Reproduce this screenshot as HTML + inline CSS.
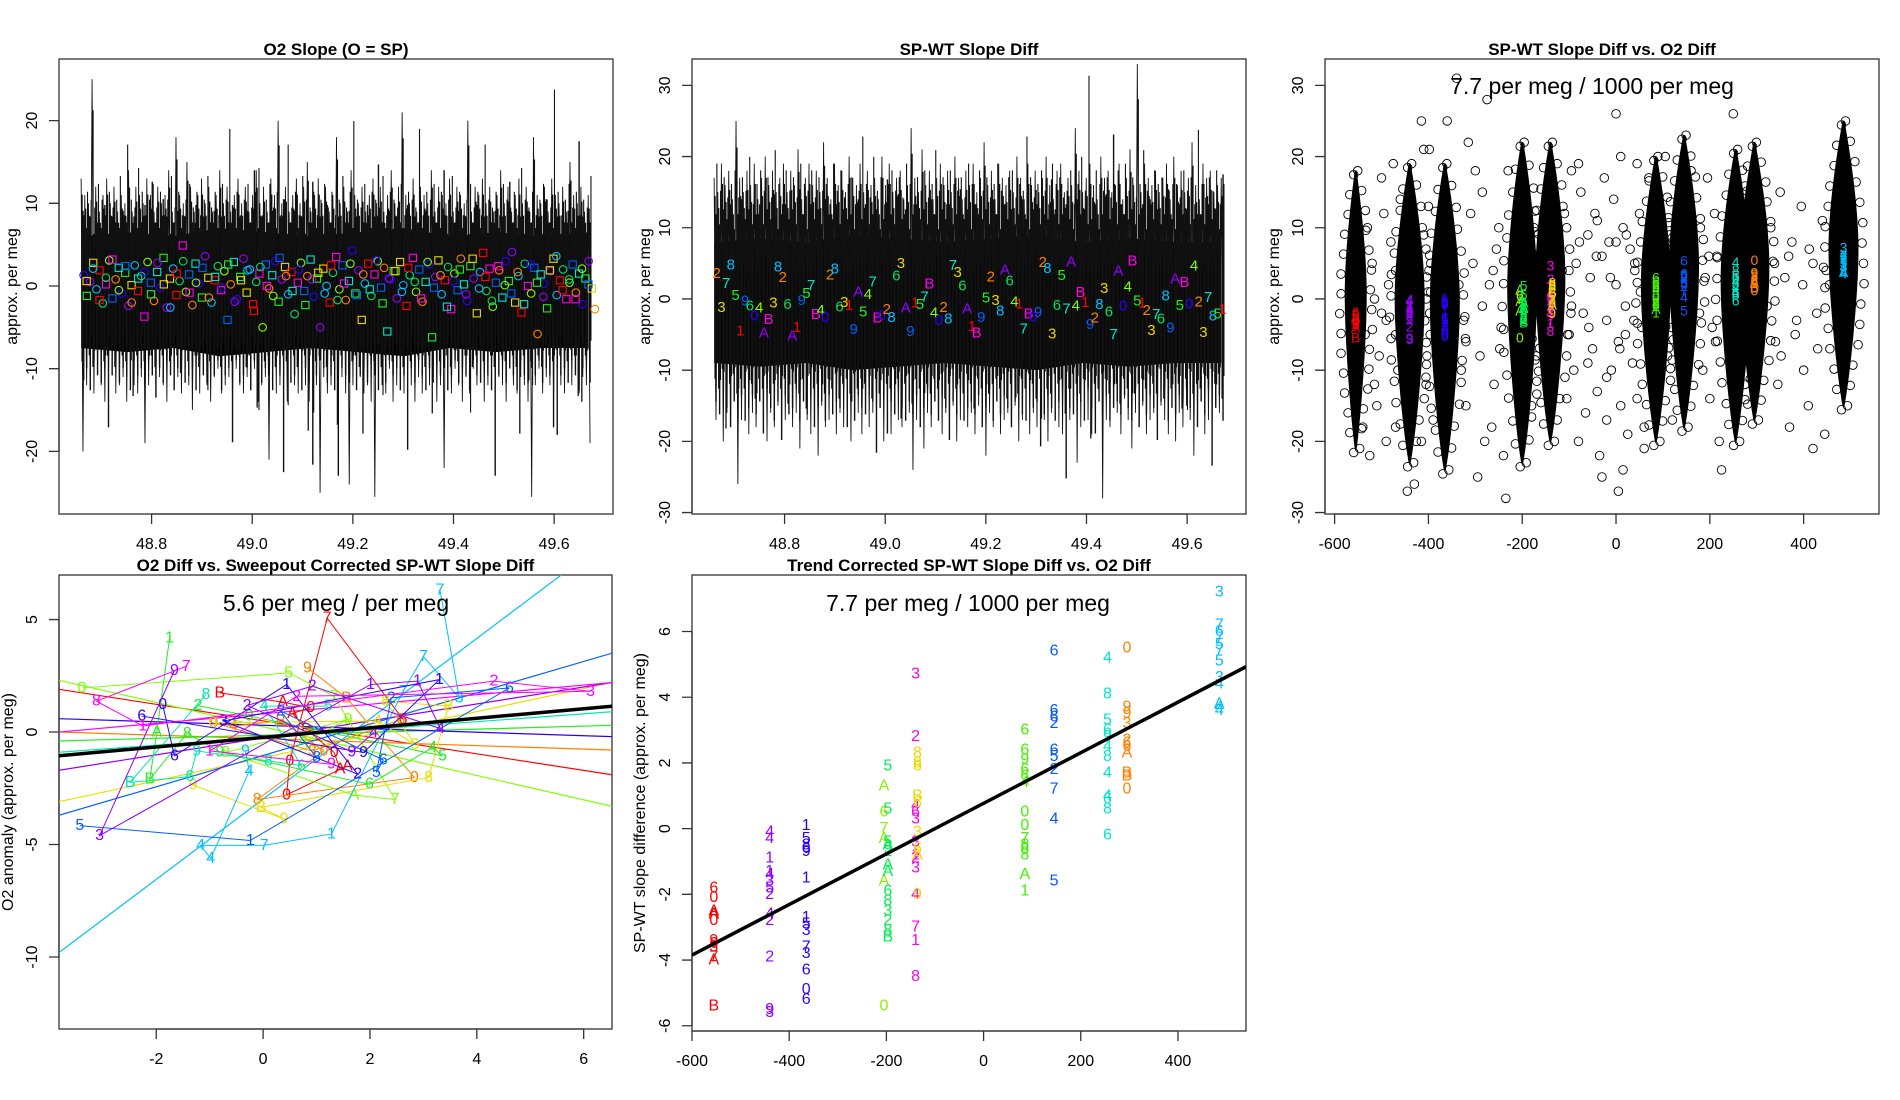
<!DOCTYPE html>
<html><head><meta charset="utf-8"><title>SP-WT slope diagnostics</title>
<style>
html,body{margin:0;padding:0;background:#fff;}
svg{display:block;font-family:"Liberation Sans",Arial,sans-serif;}
</style></head>
<body>
<svg id="fig" width="1900" height="1100" viewBox="0 0 1900 1100" xmlns="http://www.w3.org/2000/svg">
<defs>
<clipPath id="c1"><rect x="59" y="59" width="554" height="455"/></clipPath>
<clipPath id="c2"><rect x="692" y="59" width="554" height="455"/></clipPath>
<clipPath id="c3"><rect x="1325" y="59" width="554" height="455"/></clipPath>
<clipPath id="c4"><rect x="59" y="575" width="553" height="454"/></clipPath>
<clipPath id="c5"><rect x="692" y="575" width="554" height="456"/></clipPath>
</defs>
</svg>
<script>
// ---------------- DATA ----------------
const tStart = 48.66, tStep = 0.00725;
const p1Hi = [13,11,10,25,12,9,11,13,10,12,9,11,10,14,9,12,11,10,13,11,
9,12,10,11,14,9,18,11,10,15,12,9,11,13,10,12,9,11,14,10,
12,9,11,13,10,12,9,11,14,10,12,9,13,11,20,10,12,9,11,13,
10,12,15,9,11,13,10,12,9,11,18,10,12,9,14,11,10,12,9,11,
13,10,12,9,11,14,10,12,21,11,10,13,9,12,11,10,14,9,12,11,
10,13,9,12,11,10,20,9,12,11,13,10,12,9,11,14,10,12,9,11,
13,10,12,9,18,11,10,12,9,13,11,10,12,9,15,11,10,12,9,11];
const p1Lo = [-20,-12,-11,-13,-10,-12,-14,-11,-10,-13,-12,-11,-14,-10,-12,-13,-11,-19,-12,-10,
-13,-11,-12,-14,-10,-12,-11,-13,-10,-12,-15,-11,-13,-10,-12,-14,-11,-10,-13,-12,
-11,-14,-10,-12,-13,-11,-12,-10,-14,-12,-11,-21,-10,-13,-12,-11,-14,-10,-12,-13,
-11,-12,-14,-10,-12,-25,-11,-13,-12,-10,-14,-11,-13,-24,-12,-10,-11,-13,-12,-14,
-25.5,-11,-12,-13,-10,-14,-12,-11,-13,-10,-12,-14,-11,-13,-10,-12,-11,-14,-12,-22,
-11,-13,-10,-12,-14,-11,-13,-10,-12,-11,-14,-12,-10,-13,-11,-12,-14,-10,-12,-13,
-11,-12,-14,-25.5,-12,-10,-13,-11,-12,-14,-10,-12,-13,-11,-12,-10,-13,-11,-12,-19];
const p1CoreHi = [6,6.5,6,7,6.5,6,6.5,7,6,6.5,6,6.5];
const p1CoreLo = [-7.5,-8,-7.5,-8.5,-8,-7.5,-8,-8.5,-7.5,-8,-7.5,-7.5];
const p1Markers = [1.3,-1.2,0.5,2.8,-0.4,1.9,-2.1,0.2,3.1,-1.5,0.8,2.2,-0.9,1.6,-2.4,0.1,2.5,-0.6,1.2,-3.7,
2.9,0.4,-1.8,1.7,-0.2,3.4,-2.6,0.9,2.1,-1.1,0.6,4.9,-0.7,1.4,-2.3,2.7,0.3,-1.4,3.6,1.0,
-2.0,0.7,2.4,-0.5,1.8,-4.1,0.2,2.9,-1.6,1.1,3.3,-0.8,2.0,-2.2,0.5,1.5,-5.0,2.6,-0.3,1.3,
3.0,-1.9,0.8,2.3,-1.0,1.7,-3.4,0.4,2.8,-0.6,1.2,3.2,-1.3,0.9,-5.0,2.1,0.0,-2.0,1.6,3.5,
-0.4,2.5,-1.7,0.6,4.3,-0.9,1.9,-4.1,0.3,2.7,-1.2,1.4,3.0,-0.2,2.2,-5.5,0.8,1.8,-1.5,2.9,
0.1,-2.4,1.3,3.4,-0.7,2.0,-1.9,0.5,2.6,-6.2,1.1,3.1,-1.0,0.7,2.3,-2.8,1.5,-0.5,3.3,0.2,
-1.8,2.4,0.9,-3.3,1.7,4.0,-0.6,2.1,-2.5,0.4,1.9,-1.4,3.0,0.6,4.1,-2.0,1.2,-3.2,2.7,0.0,
-0.9,2.2,-5.8,1.4,0.3,-2.7,1.8,3.3,-1.1,0.7,2.0,-1.6,0.4,2.6,-0.8,1.5,-2.2,0.9,3.0,-0.3];
const p1Markers2 = [0.6,2.1,-1.7,1.0,3.2,-0.5,2.4,-2.0,0.9,1.7,-1.0,2.8,0.2,-2.6,1.5,3.0,-0.8,0.4,2.2,-1.4,
1.1,-0.2,2.6,-1.9,0.7,1.9,-3.0,2.3,0.0,-1.2,3.4,1.2,-0.6,2.0,-2.3,0.8,1.6,-0.9,2.5,-1.7,
0.3,2.7,-1.1,1.4,-0.4,3.1,-2.1,0.9,1.8,-0.7,2.2,0.5,-1.5,2.9,-0.2,1.3,-2.5,0.6,2.0,-1.0,
3.3,-0.3,1.1,-1.8,2.4,0.1,-0.9,1.7,-2.2,2.6,0.4,-1.3,1.9,3.6,-0.5,0.8,-1.6,2.1,0.2,-2.8];
const p2Hi = [17,15,19,16,18,14,25,17,15,18,16,19,14,17,20,16,18,15,17,19,
15,18,16,21,14,17,19,16,18,15,22,17,14,19,16,18,15,20,17,16,
19,15,18,16,17,14,20,16,19,15,17,18,14,16,24,17,15,21,16,18,
14,17,19,16,18,15,20,17,14,18,16,19,15,17,22,16,18,14,19,17,
16,18,15,20,17,14,19,16,18,15,17,20,16,14,18,19,15,17,16,24,
18,15,17,19,16,14,20,17,18,15,16,19,14,17,21,16,33,15,19,17,
16,18,15,17,19,14,20,16,18,15,17,22,16,14,19,17,18,15,16,17];
const p2Lo = [-17,-15,-20,-16,-18,-14,-26,-17,-15,-19,-16,-18,-14,-17,-20,-16,-18,-15,-19,-17,
-15,-18,-16,-21,-14,-17,-19,-16,-22,-15,-18,-17,-14,-19,-16,-18,-15,-20,-17,-16,
-19,-15,-18,-16,-17,-14,-20,-16,-19,-15,-17,-18,-14,-16,-24,-17,-15,-21,-16,-18,
-14,-17,-19,-16,-18,-15,-20,-17,-14,-18,-16,-19,-15,-17,-22,-16,-18,-14,-19,-17,
-16,-18,-15,-20,-17,-14,-19,-16,-18,-15,-17,-20,-16,-14,-18,-19,-15,-17,-16,-23,
-18,-15,-17,-19,-16,-14,-28,-17,-18,-15,-16,-19,-14,-17,-21,-16,-18,-15,-19,-17,
-16,-18,-15,-17,-19,-14,-20,-16,-18,-15,-17,-22,-16,-14,-19,-17,-18,-15,-16,-14];
const p2CoreHi = [8,8.5,8,9,8.5,8,8.5,9,8,8.5,8,8];
const p2CoreLo = [-9,-9.5,-9,-10,-9.5,-9,-9.5,-10,-9,-9.5,-9,-9];
const p2Labels = "2378519604AB3826A1957B40286319A547B02863A9157B" +
                 "4028736A1B95238A6417B09283657A4B1928367A04B5" +
                 "1237689A5B04";
const p2Vals = [3.6,-1.2,2.2,4.8,0.5,-4.5,-0.3,-1.0,-2.4,-1.3,-4.8,-2.9,
-0.6,4.5,3.0,-0.8,-5.2,-4.0,-0.2,0.8,1.9,-2.2,-1.6,-2.6,
3.4,4.2,-1.1,-0.5,-0.9,-4.3,1.0,-1.8,0.6,2.4,-2.7,-2.3,
-1.5,-2.6,3.2,5.0,-1.3,-4.6,-0.6,-0.8,0.3,2.1,-2.0,-3.0,
-1.2,-2.8,4.7,3.7,1.8,-1.4,-3.9,-4.8,-2.6,0.1,3.1,-0.2,
-1.7,4.1,2.5,-0.4,-0.7,-4.2,-2.1,-2.5,-1.9,5.1,4.3,-4.9,
-0.9,3.3,-1.4,5.2,-1.0,0.9,-0.5,-3.6,-2.7,-0.8,1.5,-1.8,
-5.0,3.9,-1.0,1.7,5.3,-0.3,-0.6,-1.6,-4.4,-2.2,-2.8,0.4,
-4.1,2.8,-0.9,2.3,-0.7,4.6,-0.4,-4.7,0.2,-2.4,-2.1,-1.5];
const p3ClusterX = [-555,-440,-365,-200,-140,85,145,255,295,485];
const p3ClusterLo = [-21,-23,-24,-23,-20,-20,-18,-20,-17,-15];
const p3ClusterHi = [18,19,19,22,22,20,23,21,22,25];
const p3ScatterX = [-520,-505,-495,-510,-485,-470,-500,-475,-490,-515,-480,-465,-470,-460,-500,-410,-405,-395,-415,-400,
-420,-390,-410,-325,-310,-320,-300,-290,-305,-280,-315,-330,-295,-285,-270,-260,-250,-265,-245,-255,
-240,-275,-230,-235,-175,-170,-165,-180,-110,-100,-95,-105,-85,-80,-90,-75,-70,-60,-65,-50,
-55,-45,-40,-30,-35,-20,-25,-10,-15,0,5,-5,10,15,20,25,30,35,40,45,
50,55,0,5,15,-30,60,45,110,115,120,105,115,180,185,190,200,195,205,210,
220,215,225,330,340,350,345,360,370,375,385,395,400,410,420,430,440,445,455,420,
-540,-530,-535,-525,-445,-430,-415,-398,-360,-340,-20,60,-150,-220,10,-80,70,160,250,130,
-515,-490,-470,-420,-395,-335,-320,-285,-262,-248,-115,-95,-78,-58,-42,-12,8,22,38,52,
110,118,178,198,212,322,338,352,368,382,398,412,428,448,-60,-40,-20,0,20,40];
const p3ScatterY = [5,-8,12,-15,2,-5,17,19,-20,-12,8,-10,-18,14,-2,21,-12,5,-20,13,
-5,-17,9,-3,12,-15,18,-8,5,-20,22,-10,-25,15,2,-12,10,-18,-4,7,
-22,28,18,-28,10,-8,3,-15,12,-5,18,-14,5,-20,-10,15,-2,9,-16,-7,
3,12,-13,6,-22,-3,17,-10,8,2,-6,14,-15,10,-1,-19,7,-9,4,-14,
12,-4,26,-27,-24,-25,-18,19,-8,9,-17,20,1,10,-10,3,-14,17,-4,12,
-20,6,-24,10,-6,15,-12,3,-18,8,-3,13,-10,-15,5,-7,11,-19,2,-21,
-18,10,-5,-22,-27,-26,25,21,25,31,-17,-21,-5,0,20,19,17,18,26,-2,
0,-3,4,-2,1,2,-6,-1,4,-7,4,-1,8,-4,6,3,-7,9,-3,1,
4,-4,-2,6,-6,-1,5,-8,6,-5,2,7,-2,4,-9,11,-11,8,-5,5];
const p5ClusterX = [-555,-440,-365,-205,-197,-140,-136,85,145,255,295,485];
const p5ClusterCol = ["#FF0000","#9400FF","#2A00FF","#8CF000","#00F050","#FF00E6","#F0D800","#44F000","#0058FF","#00E6C8","#FF8000","#00BEFF"];
const p5Labels = ["60AA09637AB","4411435242293","15869115373606","A6A7A0","5559A2AA68328B","3246331234718","888B636A9","669664007888A1","6662652745","485694844686B","0993266ABB0","376757534A44"];
const p5Vals = [[-1.8,-2.1,-2.5,-2.6,-2.8,-3.4,-3.5,-3.6,-3.9,-4.0,-5.4],
[-0.1,-0.3,-0.9,-1.3,-1.4,-1.6,-1.8,-2.0,-2.6,-2.8,-3.9,-5.5,-5.6],
[0.1,-0.3,-0.5,-0.6,-0.7,-1.5,-2.7,-2.9,-3.1,-3.6,-3.8,-4.3,-4.9,-5.2],
[1.3,0.5,-0.3,0.0,-1.6,-5.4],
[1.9,0.6,-0.4,-0.6,-0.5,-0.7,-1.1,-1.3,-1.9,-2.2,-2.5,-2.8,-3.1,-3.3],
[4.7,2.8,0.7,0.5,0.3,-0.4,-0.8,-0.9,-1.2,-2.0,-3.0,-3.4,-4.5],
[2.3,2.0,1.9,1.0,0.8,-0.1,-0.6,-0.8,-2.0],
[3.0,2.4,2.1,1.8,1.6,1.4,0.5,0.1,-0.3,-0.5,-0.8,-0.6,-1.4,-1.9],
[5.4,3.6,3.4,3.2,2.4,2.2,1.8,1.2,0.3,-1.6],
[5.2,4.1,3.3,3.0,2.8,2.5,2.2,1.7,1.0,0.9,0.6,-0.2],
[5.5,3.7,3.5,3.2,2.7,2.6,2.5,2.3,1.7,1.6,1.2],
[7.2,6.2,6.0,5.8,5.6,5.4,5.1,4.6,4.4,3.8,3.6,3.7]];
const p5Intercept = 0.77, p5Slope = 0.0077;
const p4Colors = ["#FF0000","#FF8000","#E8E000","#80FF00","#22EE22","#00E8B0","#00C0FF","#0060FF","#2A00FF","#8F00FF","#FF00FF"];
const p4SeriesX = [
[-0.81,0.37,0.89,0.55,0.81,1.33,1.44,1.58,0.44,0.5,1.2,2.62],
[0.83,1.56,2.83,-0.11,1.14,0.33,-0.55,-0.92,0.92,2.58],
[-1.31,0.39,-0.04,3.1,3.47,2.29,2.84,2.14,-0.94],
[-3.39,0.48,1.33,2.47,1.7,-0.7,1.59,0.74],
[-1.75,-1.99,-2.12,-1.42,-0.81,1.99,3.17,3.36,-1.22,-0.26],
[-1.07,-2.49,-1.37,-1.24,0.1,0.72,0.02,1.22],
[3.31,3.67,3.0,2.62,1.28,0.02,-1.17,-0.98,-0.26,-0.33],
[-3.43,-0.24,4.61,2.4,2.12,2.25,0.33,1.0],
[-1.88,-1.66,0.44,1.77,-0.74,3.3,1.88,-2.27],
[-1.66,-3.06,2.01,2.89,3.32,0.92,-0.3,1.66,2.07],
[-1.44,-3.12,-2.25,4.32,6.13,0.63,-1.0,1.28]];
const p4SeriesY = [
[1.74,1.33,1.08,0.83,0.12,-0.91,-1.65,-1.5,-2.79,-1.28,5.06,0.56],
[2.85,1.52,-2.02,-3.0,-0.84,0.49,0.27,0.41,-0.84,0.56],
[-2.36,-3.86,-3.35,-2.02,1.15,1.37,-0.55,0.49,0.41],
[1.96,2.63,1.59,-3.0,-2.8,-0.91,0.56,-0.47],
[4.17,0,-2.09,-0.06,-0.88,-2.32,-0.69,-1.06,1.18,0.71],
[1.67,-2.24,-1.98,-0.84,-1.28,-1.5,1.15,1.15],
[6.31,1.52,3.36,1.81,-4.53,-5.04,-5.04,-5.63,-1.73,-0.84],
[-4.16,-4.82,1.96,1.52,-1.8,-1.24,0.93,-1.14],
[1.22,-1.06,2.11,-1.87,0.49,2.33,-0.91,0.71],
[2.74,-4.6,2.11,2.26,0.15,2.04,1.18,-0.88,-0.03],
[2.92,1.37,0.27,2.26,1.81,1.59,-0.84,-1.43]];
const p4SeriesLab = ["BA0AB0AA0076","9B080B4930","99B8B8640","0577A89A","1AB8964520","8B698645","7377174449","51625628","06123196","931142294","78123219"];
const p4Intercept = [0.498,-0.295,-1.14,0.233,-0.142,-0.235,-2.98,-1.04,0.3,-0.26,0.81];
const p4Slope = [-0.367,-0.0773,0.512,-0.541,0.0676,0.174,1.785,0.696,-0.077,0.377,0.2126];
const p4FitIntercept = -0.24, p4FitSlope = 0.2126;

// ---------------- DRAWING ----------------
const NS = "http://www.w3.org/2000/svg";
const svg = document.getElementById("fig");
const labelColor = {"1":"#FF0000","2":"#FF8000","3":"#E8D800","4":"#80FF00","5":"#22EE22","6":"#00E060","7":"#00E6C8","8":"#00BEFF","9":"#0060FF","0":"#2A00FF","A":"#9400FF","B":"#FF00E6"};
const PANELS = {
 p1:{x0:59,x1:613,y0:59,y1:514,xmin:48.616,xmax:49.717,ymin:-27.57,ymax:27.45,clip:"c1"},
 p2:{x0:692,x1:1246,y0:59,y1:514,xmin:48.616,xmax:49.717,ymin:-30.2,ymax:33.7,clip:"c2"},
 p3:{x0:1325,x1:1879,y0:59,y1:514,xmin:-620.5,xmax:560.7,ymin:-30.2,ymax:33.7,clip:"c3"},
 p4:{x0:59,x1:612,y0:575,y1:1029,xmin:-3.82,xmax:6.53,ymin:-13.2,ymax:6.98,clip:"c4"},
 p5:{x0:692,x1:1246,y0:575,y1:1031,xmin:-600,xmax:540,ymin:-6.16,ymax:7.72,clip:"c5"}};
function sx(p,v){return p.x0+(v-p.xmin)/(p.xmax-p.xmin)*(p.x1-p.x0);}
function sy(p,v){return p.y1-(v-p.ymin)/(p.ymax-p.ymin)*(p.y1-p.y0);}
function el(tag,parent){const e=document.createElementNS(NS,tag);(parent||svg).appendChild(e);return e;}
function grp(name,clip){const g=el("g");
 
 
 if(clip)g.setAttribute("clip-path","url(#"+clip+")");return g;}
function txt(parent,x,y,s,size,opts){const t=el("text",parent);t.setAttribute("x",x);t.setAttribute("y",y);
 t.setAttribute("font-size",size);t.setAttribute("text-anchor",(opts&&opts.anchor)||"middle");
 if(opts&&opts.fill)t.setAttribute("fill",opts.fill);if(opts&&opts.bold)t.setAttribute("font-weight","bold");
 if(opts&&opts.rot)t.setAttribute("transform","rotate(-90 "+x+" "+y+")");
 if(opts&&opts.db)t.setAttribute("dominant-baseline","central");
 t.textContent=s;return t;}

function frame(p,name,title,ytitle,xt,xfmt,yt,titleY,ytitleOff){
 const g=grp(name+"-axes");
 const r=el("rect",g);r.setAttribute("x",p.x0);r.setAttribute("y",p.y0);r.setAttribute("width",p.x1-p.x0);r.setAttribute("height",p.y1-p.y0);
 r.setAttribute("fill","none");r.setAttribute("stroke","#333");r.setAttribute("stroke-width","1.3");
 
 
 const xa=el("path",g);let d="M"+sx(p,xt[0])+" "+p.y1+"H"+sx(p,xt[xt.length-1]);
 xt.forEach(v=>{d+="M"+sx(p,v)+" "+p.y1+"v10";});
 xa.setAttribute("d",d);xa.setAttribute("stroke","#333");xa.setAttribute("stroke-width","1.3");
 
 
 xt.forEach(v=>{const t=txt(g,sx(p,v),p.y1+35,xfmt(v),16);
  
  });
 const ya=el("path",g);d="M"+p.x0+" "+sy(p,yt[0])+"V"+sy(p,yt[yt.length-1]);
 yt.forEach(v=>{d+="M"+p.x0+" "+sy(p,v)+"h-10";});
 ya.setAttribute("d",d);ya.setAttribute("stroke","#333");ya.setAttribute("stroke-width","1.3");
 
 
 yt.forEach(v=>{const t=txt(g,p.x0-22,sy(p,v),String(v),16,{rot:true});
  
  });
 const tt=txt(g,(p.x0+p.x1)/2,titleY,title,17,{bold:true});
 
 
 const yl=txt(g,p.x0-ytitleOff,(p.y0+p.y1)/2,ytitle,16,{rot:true});
 
 
}
function noise(p,name,hi,lo,coreHi,coreLo){
 const g=grp(name,p.clip);
 const n=coreHi.length;let d="";
 for(let i=0;i<n;i++){const t=tStart+i*(hi.length-1)*tStep/(n-1);d+=(i?"L":"M")+sx(p,t)+" "+sy(p,coreHi[i]);}
 for(let i=n-1;i>=0;i--){const t=tStart+i*(hi.length-1)*tStep/(n-1);d+="L"+sx(p,t)+" "+sy(p,coreLo[i]);}
 const core=el("path",g);core.setAttribute("d",d+"Z");core.setAttribute("fill","#000");
 
 
 let z="";
 for(let i=0;i<hi.length;i++){const t=tStart+i*tStep;
  z+=(i?"L":"M")+sx(p,t)+" "+sy(p,hi[i])+"L"+sx(p,t+tStep/2)+" "+sy(p,lo[i]);}
 const zz=el("path",g);zz.setAttribute("d",z);zz.setAttribute("fill","none");zz.setAttribute("stroke","#111");zz.setAttribute("stroke-width","0.9");
 
 
 const layers=[[0.25,0.85,0.7,1.3],[0.5,0.7,0.9,1.4],[0.75,0.95,0.6,1.1]];
 layers.forEach((L,k)=>{let s="";
  for(let i=0;i<hi.length;i++){const j=(i+k*7)%hi.length;const t=tStart+(i+L[0])*tStep;
   s+="M"+sx(p,t)+" "+sy(p,hi[j]*L[1])+"V"+sy(p,lo[(j+3)%hi.length]*L[2]);}
  const ss=el("path",g);ss.setAttribute("d",s);ss.setAttribute("stroke","#111");ss.setAttribute("stroke-width",L[3]);
  
  });
}

const P1=PANELS.p1, P2=PANELS.p2, P3=PANELS.p3, P4=PANELS.p4, P5=PANELS.p5;
const tTicks=[48.8,49.0,49.2,49.4,49.6];
// Panel 1
frame(P1,"o2-slope","O2 Slope (O = SP)","approx. per meg",tTicks,v=>v.toFixed(1),[-20,-10,0,10,20],55,42);
noise(P1,"o2-slope-series",p1Hi,p1Lo,p1CoreHi,p1CoreLo);
{
 const g=grp("o2-slope-markers",P1.clip);
 const pal=Object.values(labelColor);
 function drawMarkers(arr,off){
  const step=(49.675-48.665)/(arr.length-1);
  arr.forEach((v,i)=>{
   const x=sx(P1,48.665+i*step)+off,y=sy(P1,v),c=pal[(i*5+off)%pal.length];
   let m;
   if((i+off)%2){m=el("rect",g);m.setAttribute("x",x-3.6);m.setAttribute("y",y-3.6);m.setAttribute("width",7.2);m.setAttribute("height",7.2);}
   else{m=el("circle",g);m.setAttribute("cx",x);m.setAttribute("cy",y);m.setAttribute("r",3.8);}
   m.setAttribute("fill","none");m.setAttribute("stroke",c);m.setAttribute("stroke-width","1.1");
   
   
  });}
 drawMarkers(p1Markers,0);
 drawMarkers(p1Markers2,3);
}
// Panel 2
frame(P2,"sp-wt-diff","SP-WT Slope Diff","approx. per meg",tTicks,v=>v.toFixed(1),[-30,-20,-10,0,10,20,30],55,42);
noise(P2,"sp-wt-diff-series",p2Hi,p2Lo,p2CoreHi,p2CoreLo);
{
 const g=grp("sp-wt-diff-labels",P2.clip);
 const step=(49.67-48.665)/(p2Vals.length-1);
 p2Vals.forEach((v,i)=>{const ch=p2Labels[i%p2Labels.length];
  const t=txt(g,sx(P2,48.665+i*step),sy(P2,v),ch,15,{fill:labelColor[ch],db:true});
  
  });
}
// Panel 3
frame(P3,"diff-vs-o2","SP-WT Slope Diff vs. O2 Diff","approx. per meg",[-600,-400,-200,0,200,400],v=>String(v),[-30,-20,-10,0,10,20,30],55,46);
{
 const g=grp("diff-vs-o2-points",P3.clip);
 function circ(x,y){const c=el("circle",g);c.setAttribute("cx",x);c.setAttribute("cy",y);
  c.setAttribute("r",4.3);c.setAttribute("fill","none");c.setAttribute("stroke","#000");c.setAttribute("stroke-width","0.9");
  
  }
 p3ScatterX.forEach((xv,i)=>circ(sx(P3,xv),sy(P3,p3ScatterY[i])));
 p3ClusterX.forEach((cx,i)=>{
  const x=sx(P3,cx),yt=sy(P3,p3ClusterHi[i]),yb=sy(P3,p3ClusterLo[i]),ym=sy(P3,(p3ClusterHi[i]+p3ClusterLo[i])/2+2);
  const w=(i===0)?10:14;
  const cl=el("path",g);
  cl.setAttribute("d","M"+x+" "+yt+"C"+(x+w*0.5)+" "+(yt+40)+" "+(x+w)+" "+(ym-40)+" "+(x+w)+" "+ym+"C"+(x+w)+" "+(ym+40)+" "+(x+w*0.5)+" "+(yb-40)+" "+x+" "+yb+
   "C"+(x-w*0.5)+" "+(yb-40)+" "+(x-w)+" "+(ym+40)+" "+(x-w)+" "+ym+"C"+(x-w)+" "+(ym-40)+" "+(x-w*0.5)+" "+(yt+40)+" "+x+" "+yt+"Z");
  cl.setAttribute("fill","#000");cl.setAttribute("stroke","#000");cl.setAttribute("stroke-width","2");
  
  
  const n=14;
  for(let k=0;k<=n;k++){const f=k/n;const yy=yt+(yb-yt)*f;const wf=Math.sin(Math.PI*f);
   const dx=(w+3)*wf+2;circ(x+dx+(k%3),yy);circ(x-dx-(k%2),yy+4);}
 });
 p5ClusterX.forEach((cx,i)=>{const labs=p5Labels[i];
  p5Vals[i].forEach((v,j)=>{const t=txt(g,sx(P3,cx),sy(P3,v),labs[j]||"0",14,{fill:p5ClusterCol[i],db:true});
   
   });});
 const a=txt(grp("diff-vs-o2-annotation"),(P3.x0+P3.x1)/2-10,94,"7.7 per meg / 1000 per meg",23);
 
 
}
// Panel 4
frame(P4,"o2-vs-corrected","O2 Diff vs. Sweepout Corrected SP-WT Slope Diff","O2 anomaly (approx. per meg)",[-2,0,2,4,6],v=>String(v),[-10,-5,0,5],571,46);
{
 const g=grp("o2-vs-corrected-series",P4.clip);
 p4Intercept.forEach((b,i)=>{const l=el("line",g);
  l.setAttribute("x1",sx(P4,P4.xmin));l.setAttribute("y1",sy(P4,b+p4Slope[i]*P4.xmin));
  l.setAttribute("x2",sx(P4,P4.xmax));l.setAttribute("y2",sy(P4,b+p4Slope[i]*P4.xmax));
  l.setAttribute("stroke",p4Colors[i]);l.setAttribute("stroke-width","1.2");
  
  });
 p4SeriesX.forEach((xs,i)=>{
  let d="";xs.forEach((xv,j)=>{d+=(j?"L":"M")+sx(P4,xv)+" "+sy(P4,p4SeriesY[i][j]);});
  const pl=el("path",g);pl.setAttribute("d",d);pl.setAttribute("fill","none");pl.setAttribute("stroke",p4Colors[i]);pl.setAttribute("stroke-width","1");
  
  
  xs.forEach((xv,j)=>{const t=txt(g,sx(P4,xv),sy(P4,p4SeriesY[i][j]),p4SeriesLab[i][j]||"0",16,{fill:p4Colors[i],db:true});
   
   });
 });
 const f=el("line",g);
 f.setAttribute("x1",sx(P4,P4.xmin));f.setAttribute("y1",sy(P4,p4FitIntercept+p4FitSlope*P4.xmin));
 f.setAttribute("x2",sx(P4,P4.xmax));f.setAttribute("y2",sy(P4,p4FitIntercept+p4FitSlope*P4.xmax));
 f.setAttribute("stroke","#000");f.setAttribute("stroke-width","3.5");
 
 
 const a=txt(grp("o2-vs-corrected-annotation"),336,611,"5.6 per meg / per meg",23);
 
 
}
// Panel 5
frame(P5,"trend-corrected","Trend Corrected SP-WT Slope Diff vs. O2 Diff","SP-WT slope difference (approx. per meg)",[-600,-400,-200,0,200,400],v=>String(v),[-6,-4,-2,0,2,4,6],571,47);
{
 const g=grp("trend-corrected-labels",P5.clip);
 p5ClusterX.forEach((cx,i)=>{const labs=p5Labels[i];
  p5Vals[i].forEach((v,j)=>{const t=txt(g,sx(P5,cx),sy(P5,v),labs[j]||"0",16,{fill:p5ClusterCol[i],db:true});
   
   });});
 const f=el("line",g);
 f.setAttribute("x1",sx(P5,P5.xmin));f.setAttribute("y1",sy(P5,p5Intercept+p5Slope*P5.xmin));
 f.setAttribute("x2",sx(P5,P5.xmax));f.setAttribute("y2",sy(P5,p5Intercept+p5Slope*P5.xmax));
 f.setAttribute("stroke","#000");f.setAttribute("stroke-width","3.5");
 
 
 const a=txt(grp("trend-corrected-annotation"),968,611,"7.7 per meg / 1000 per meg",23);
 
 
}
</script>
</body></html>
